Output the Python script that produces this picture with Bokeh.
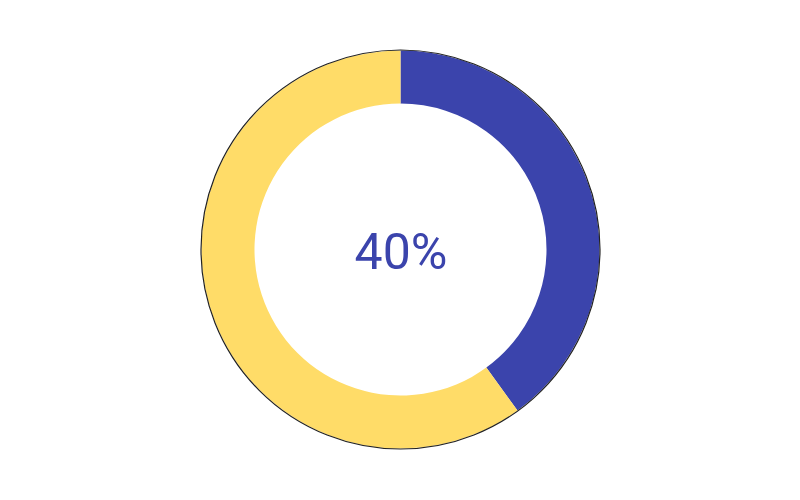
import numpy as np
from bokeh.plotting import figure
from bokeh.models import ColumnDataSource, Range1d
from bokeh.core.properties import value
from bokeh.embed import file_html
from bokeh.resources import INLINE

categories = ["Done", "Remaining"]
values = [40, 60]
colors = ["#3B44AC", "#FFDC68"]

W, H = 784, 484
p = figure(width=W, height=H, output_backend="svg", toolbar_location=None,
           x_range=Range1d(-W / 2, W / 2), y_range=Range1d(-H / 2, H / 2),
           min_border=0)
p.axis.visible = False
p.grid.visible = False
p.outline_line_color = None
p.background_fill_color = "white"

frac = np.array(values, dtype=float) / sum(values)
cum = np.concatenate([[0], np.cumsum(frac)])
start = np.pi / 2 - cum[:-1] * 2 * np.pi
end = np.pi / 2 - cum[1:] * 2 * np.pi

src = ColumnDataSource(dict(cat=categories, val=values, color=colors,
                            start=start, end=end))
cx, cy = 8, -7
p.annular_wedge(x=cx, y=cy, inner_radius=146, outer_radius=199,
                start_angle="start", end_angle="end", direction="clock",
                fill_color="color", line_color=None, source=src)
p.circle(x=[cx], y=[cy], radius=199.5, fill_color=None, line_color="#222222",
         line_width=1.2)

p.text(x=[cx + 0.5], y=[cy - 2], text=[f"{values[0]}%"], text_align="center",
       text_baseline="middle", text_font=value("Roboto"), text_font_size="50px",
       text_color=colors[0])

open("out.html", "w").write(file_html(p, INLINE))
